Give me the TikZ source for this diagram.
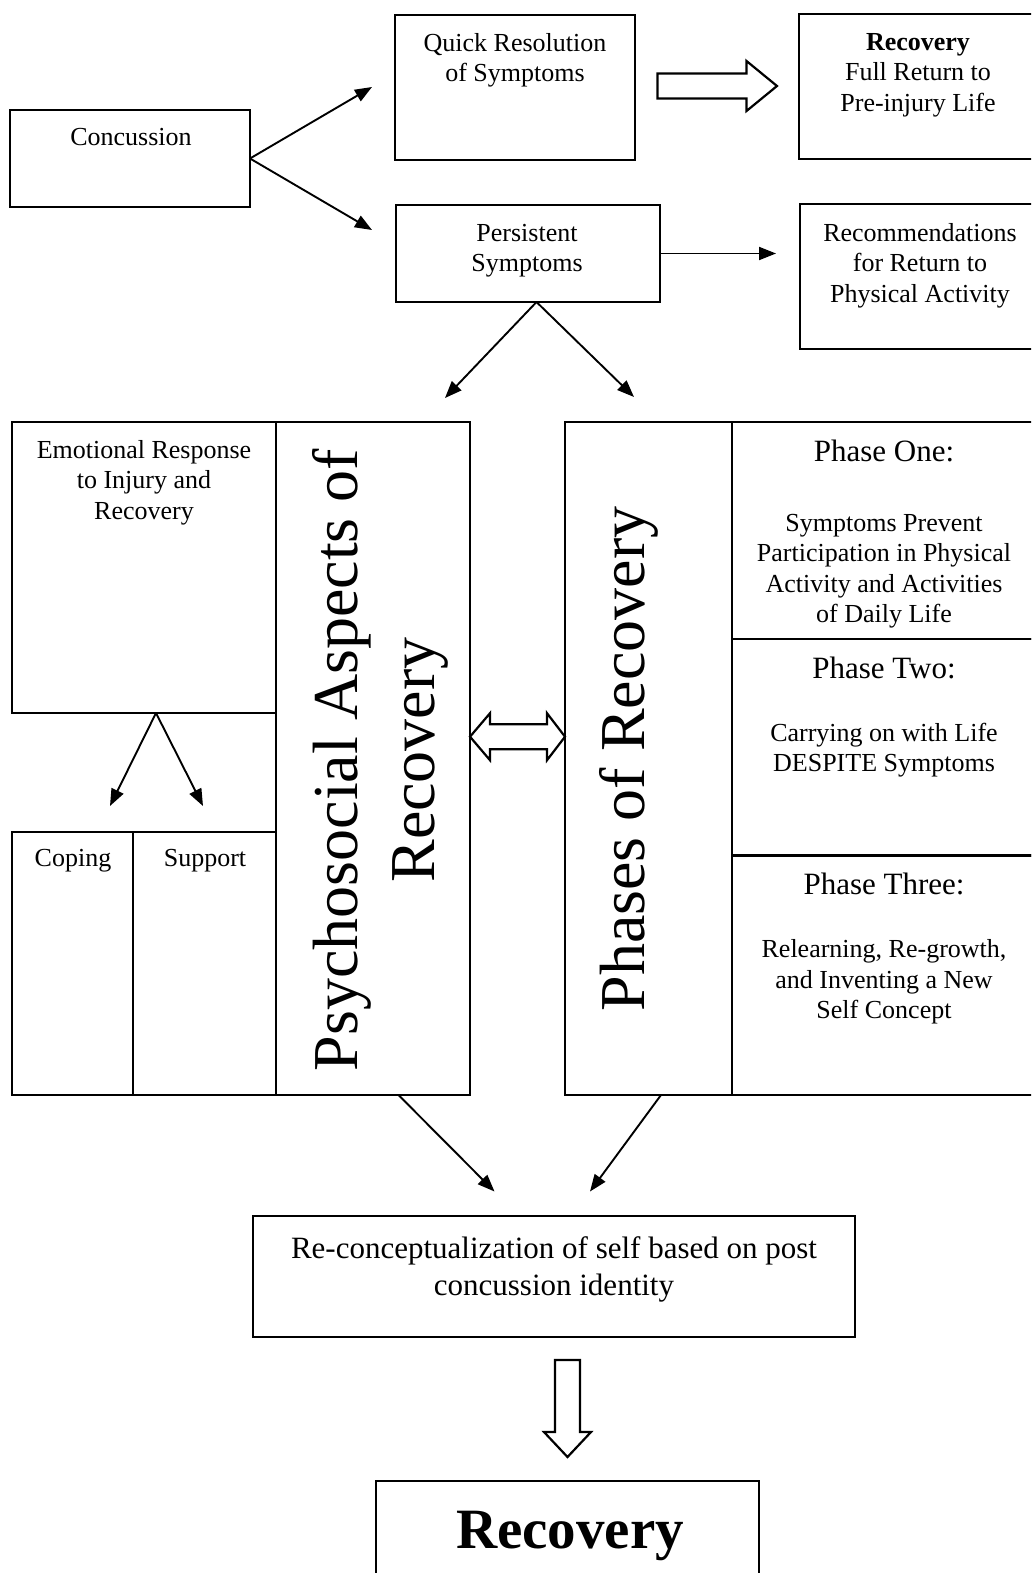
\documentclass[tikz,border=0pt]{standalone}
\usepackage{fontspec}
\setmainfont{Liberation Serif}
\usetikzlibrary{arrows.meta}

\tikzset{
  box/.style={draw, line width=2.2pt, rectangle, inner sep=0pt, outer sep=0pt},
  lbl/.style={inner sep=0pt, outer sep=0pt, align=center, anchor=north,
              font=\fontsize{26}{30.5}\selectfont},
  title/.style={lbl, font=\fontsize{31}{36}\selectfont},
  vlbl/.style={inner sep=0pt, outer sep=0pt, align=center, rotate=90,
               font=\fontsize{64}{77}\selectfont},
  conn/.style={line width=1.9pt, -{Triangle[length=17pt,width=13pt]}},
  hollow/.style={draw, line width=2.2pt, fill=white, line join=miter},
}

\begin{document}
\begin{tikzpicture}[x=1pt, y=-1pt]
\useasboundingbox (0,0) rectangle (1031,1573);
\clip (0,0) rectangle (1031,1573);

% ---------- top row ----------
\node[box, minimum width=240pt, minimum height=97pt]  (conc)    at (130,158.5)   {};
\node[box, minimum width=240pt, minimum height=145pt] (quick)   at (515,87.5)    {};
\node[box, minimum width=261pt, minimum height=145pt] (full)    at (929.5,86.5)  {};
\node[box, minimum width=264pt, minimum height=97pt]  (persist) at (528,253.5)   {};
\node[box, minimum width=260pt, minimum height=145pt] (recomm)  at (930,276.5)   {};

\node[lbl] (conc-t)    at (131,128) {Concussion};
\node[lbl] (quick-t)   at (515,33)  {Quick Resolution\\of Symptoms};
\node[lbl] (full-t)    at (918,33)  {\textbf{Recovery}\\Full Return to\\Pre-injury Life};
\node[lbl] (persist-t) at (527,224) {Persistent\\Symptoms};
\node[lbl] (recomm-t)  at (920,223) {Recommendations\\for Return to\\Physical Activity};

% ---------- psychosocial block ----------
\node[box, minimum width=264pt, minimum height=291pt] (emot)    at (144,567.5)   {};
\node[box, minimum width=194pt, minimum height=673pt] (psych)   at (373,758.5)   {};
\node[box, minimum width=121pt, minimum height=263pt] (coping)  at (72.5,963.5)  {};
\node[box, minimum width=143pt, minimum height=263pt] (support) at (204.5,963.5) {};

\node[lbl] (emot-t)    at (144,440) {Emotional Response\\to Injury and\\Recovery};
\node[lbl] (coping-t)  at (73,849)  {Coping};
\node[lbl] (support-t) at (205,849) {Support};
\node[vlbl] (psych-t)  at (380,760) {Psychosocial Aspects of\\Recovery};

% ---------- phases block ----------
\node[box, minimum width=167pt, minimum height=673pt]   (phases) at (648.5,758.5) {};
\node[box, minimum width=328pt, minimum height=217pt]   (ph1)    at (896,530.5)   {};
\node[box, minimum width=328pt, minimum height=216.5pt] (ph2)    at (896,747.25)  {};
\node[box, minimum width=328pt, minimum height=239.5pt] (ph3)    at (896,975.25)  {};

\node[vlbl] (phases-t) at (628.5,759) {Phases of Recovery};
\node[title] (ph1-h) at (884,440) {Phase One:};
\node[lbl]   (ph1-t) at (884,514) {Symptoms Prevent\\Participation in Physical\\Activity and Activities\\of Daily Life};
\node[title] (ph2-h) at (884,657) {Phase Two:};
\node[lbl]   (ph2-t) at (884,723) {Carrying on with Life\\DESPITE Symptoms};
\node[title] (ph3-h) at (884,873) {Phase Three:};
\node[lbl]   (ph3-t) at (884,939.5) {Relearning, Re-growth,\\and Inventing a New\\Self Concept};

% ---------- outcome ----------
\node[box, minimum width=602pt, minimum height=121pt] (recon)  at (554,1276.5) {};
\node[box, minimum width=383pt, minimum height=119pt] (recov)  at (567.5,1540.5) {};
\node[lbl, font=\fontsize{31}{37}\selectfont] (recon-t) at (554,1236.5)
  {Re-conceptualization of self based on post\\concussion identity};
\node[lbl, font=\bfseries\fontsize{57}{68}\selectfont] (recov-t) at (570,1511) {Recovery};

% ---------- connector ends ----------
\coordinate (toQuick)   at (372,87);
\coordinate (toPersist) at (372,230);
\coordinate (toRecomm)  at (776,253.5);
\coordinate (toPsych)   at (445,398);
\coordinate (toPhases)  at (634,397);
\coordinate (toCoping)  at (110,806);
\coordinate (toSupport) at (203,806);
\coordinate (toReconL)  at (494.5,1191.5);
\coordinate (toReconR)  at (590,1191.5);

% ---------- connectors ----------
\draw[conn] (conc.east) -- (toQuick);
\draw[conn] (conc.east) -- (toPersist);
\draw[conn] (persist.east) -- (toRecomm);
\draw[conn] ([xshift=8.5pt]persist.south) -- (toPsych);
\draw[conn] ([xshift=8.5pt]persist.south) -- (toPhases);
\draw[conn] ([xshift=12pt]emot.south) -- (toCoping);
\draw[conn] ([xshift=12pt]emot.south) -- (toSupport);
\draw[conn] ([xshift=25.5pt]psych.south) -- (toReconL);
\draw[conn] ([xshift=12.5pt]phases.south) -- (toReconR);

% ---------- block arrows ----------
% quick resolution -> full recovery
\draw[hollow] (657.5,73.5) -- (746.5,73.5) -- (746.5,61) -- (777,86)
  -- (746.5,111) -- (746.5,98.5) -- (657.5,98.5) -- cycle;
% psychosocial <-> phases
\draw[hollow] (psych.east |- 0,736.7) -- (490,713.2) -- (490,724.2) -- (547,724.2)
  -- (547,713.2) -- (phases.west |- 0,736.7) -- (547,760.2) -- (547,749.2)
  -- (490,749.2) -- (490,760.2) -- cycle;
% re-conceptualization -> recovery
\draw[hollow] (555,1360) -- (580,1360) -- (580,1432) -- (591,1432) -- (567.5,1457)
  -- (544,1432) -- (555,1432) -- cycle;
\end{tikzpicture}
\end{document}
